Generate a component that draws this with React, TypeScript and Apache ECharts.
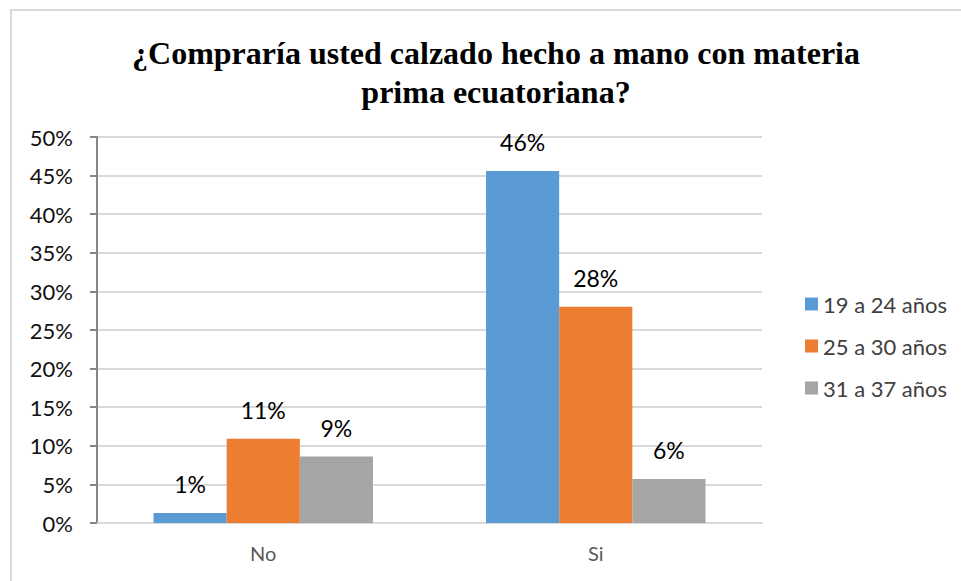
import React, { useEffect, useRef } from "react";
import * as echarts from "echarts";

const categories = ["No", "Si"];
const seriesNames = ["19 a 24 años", "25 a 30 años", "31 a 37 años"];
const age19to24 = [1.3, 45.6];
const age25to30 = [10.9, 28.0];
const age31to37 = [8.6, 5.7];
const colors = ["#5B9BD5", "#ED7D31", "#A5A5A5"];

export default function App() {
  const ref = useRef<HTMLDivElement>(null);
  useEffect(() => {
    const chart = echarts.init(ref.current!, null, { renderer: "svg" });
    const values = [age19to24, age25to30, age31to37];
    const font = "Lato, 'Open Sans', sans-serif";
    chart.setOption({
      animation: false,
      backgroundColor: "#ffffff",
      graphic: [
        {
          type: "rect",
          shape: { x: 11, y: 10, width: 1200, height: 1000 },
          style: { fill: "none", stroke: "#D9D9D9", lineWidth: 2 },
          silent: true,
        },
      ],
      title: {
        text: "¿Compraría usted calzado hecho a mano con materia\nprima ecuatoriana?",
        left: 491,
        textAlign: "center",
        top: 28,
        textStyle: {
          fontFamily: "'Liberation Serif', 'Times New Roman', serif",
          fontWeight: "bold",
          fontSize: 32,
          lineHeight: 39,
          color: "#000000",
        },
      },
      legend: {
        orient: "vertical",
        left: 800,
        top: 288,
        itemWidth: 13,
        itemHeight: 13,
        itemGap: 20,
        icon: "rect",
        data: seriesNames,
        textStyle: { fontFamily: font, fontSize: 22, color: "#404040" },
      },
      grid: { left: 97, right: 199, top: 137, bottom: 58, containLabel: false },
      xAxis: {
        type: "category",
        data: categories,
        axisLine: { lineStyle: { color: "#D9D9D9", width: 2 } },
        axisTick: { show: false },
        axisLabel: { fontFamily: font, fontSize: 20, color: "#595959", margin: 20 },
      },
      yAxis: {
        type: "value",
        min: 0,
        max: 50,
        interval: 5,
        axisLine: { show: true, lineStyle: { color: "#868686", width: 2 } },
        axisTick: { show: true, length: 7, lineStyle: { color: "#868686", width: 2 } },
        splitLine: { lineStyle: { color: "#D9D9D9", width: 2 } },
        axisLabel: {
          fontFamily: font,
          fontSize: 22,
          color: "#111111",
          margin: 24,
          formatter: (v: number) => v + "%",
        },
      },
      series: seriesNames.map((name, i) => ({
        name,
        type: "bar",
        data: values[i],
        barGap: "0%",
        barCategoryGap: "34%",
        itemStyle: { color: colors[i] },
        label: {
          show: true,
          position: "top",
          distance: 17,
          fontFamily: font,
          fontSize: 23,
          color: "#000000",
          formatter: (p: any) => Math.round(p.value) + "%",
        },
      })),
    });
    return () => chart.dispose();
  }, []);
  return <div ref={ref} style={{ width: 961, height: 581, position: "absolute", left: 0, top: 0 }} />;
}
